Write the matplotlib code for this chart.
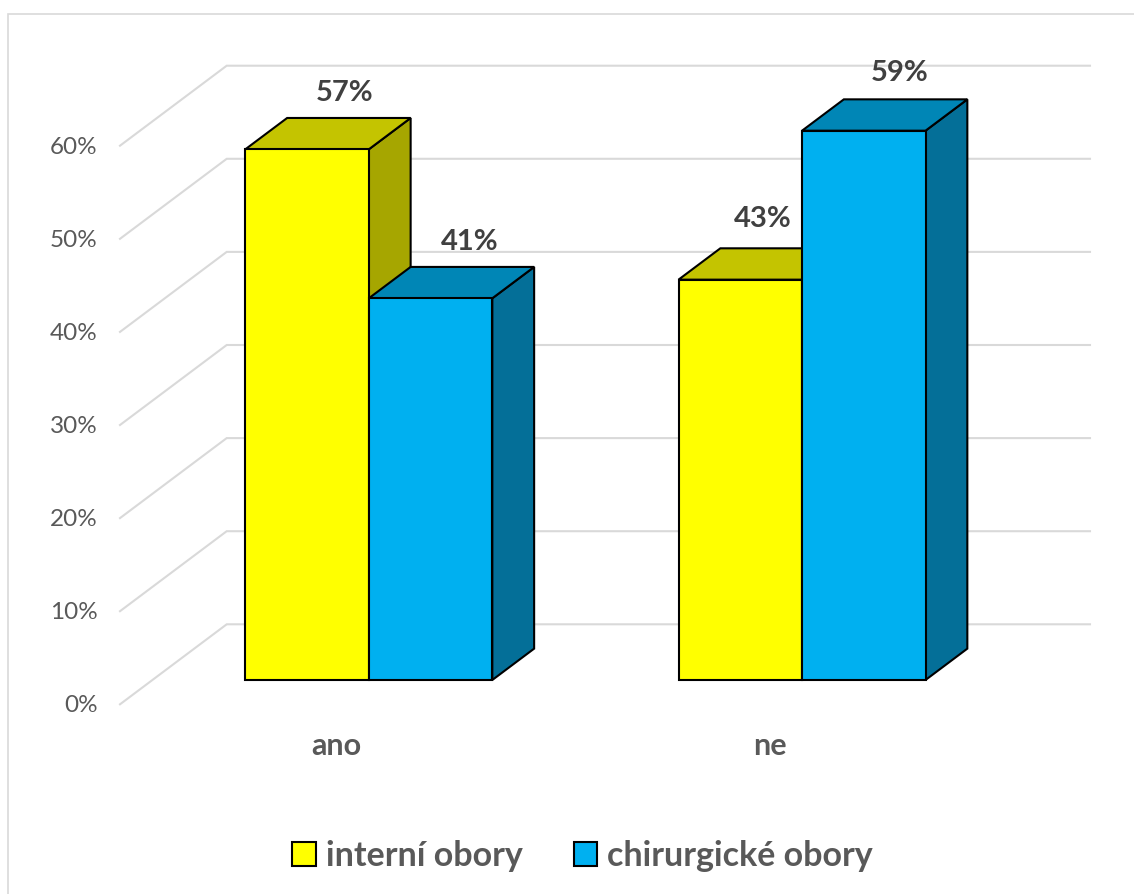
import matplotlib
matplotlib.use('Agg')
import matplotlib.pyplot as plt
from matplotlib.patches import Polygon, Patch, Rectangle

# ---- data ----
categories = ['ano', 'ne']
series_names = ['interní obory', 'chirurgické obory']
interni = [57, 43]
chirurgicke = [41, 59]
series_values = [interni, chirurgicke]
yticks = [0, 10, 20, 30, 40, 50, 60]
ytick_labels = ['0%', '10%', '20%', '30%', '40%', '50%', '60%']

front_colors = ['#FFFF00', '#00B0F0']
top_colors = ['#C4C400', '#0086B6']
side_colors = ['#A6A600', '#046F98']

# data-label nudges in points (series x category), layout only
label_offsets = [[(-3, 12), (-14, 15.5)],
                 [(-2, 12), (-4, 13)]]

FONT = 'Lato'
W, H = 1134, 894
fig = plt.figure(figsize=(W / 100, H / 100), dpi=100)
ax = fig.add_axes([0, 0, 1, 1])
ax.set_axis_off()

# layout (pixel geometry of the oblique projection)
px_per_x = 433.2
px_per_pct = 9.31
x0_px = 336.4
y0_px = 704.3
ax.set_xlim(-x0_px / px_per_x, (W - x0_px) / px_per_x)
ax.set_ylim((y0_px - H) / px_per_pct, y0_px / px_per_pct)

DX = 106.7 / px_per_x
DY = 80 / px_per_pct


def P(x, v, t):
    return (x + t * DX, v + t * DY)


# chart border
fig.patches.append(Rectangle((8 / W, -0.05), 1.1, 1 - 14 / H + 0.05,
                             transform=fig.transFigure, fill=False,
                             edgecolor='#d9d9d9', lw=1.2, zorder=0))

# wall gridlines and y tick labels
wall_left = (120 - x0_px) / px_per_x
wall_right = (1090 - x0_px) / px_per_x - DX
for t, lab in zip(yticks, ytick_labels):
    pts = [P(wall_left, t, 0), P(wall_left, t, 1), P(wall_right, t, 1)]
    ax.plot([p[0] for p in pts], [p[1] for p in pts], color='#d9d9d9',
            lw=1.5, solid_joinstyle='miter', zorder=1)
    ax.annotate(lab, xy=P(wall_left, t, 0), xytext=(-16, -1),
                textcoords='offset points', ha='right', va='center',
                fontsize=17.5, color='#595959', family=FONT)

# bars
w = 123.5 / px_per_x
t1 = 24.3 / 80
t2 = t1 + 0.392
for i, cat in enumerate(categories):
    for j, vals in enumerate(series_values):
        v = vals[i]
        xl = i - w + j * w
        xr = xl + w
        side = [P(xr, 0, t1), P(xr, 0, t2), P(xr, v, t2), P(xr, v, t1)]
        top = [P(xl, v, t1), P(xr, v, t1), P(xr, v, t2), P(xl, v, t2)]
        front = [P(xl, 0, t1), P(xr, 0, t1), P(xr, v, t1), P(xl, v, t1)]
        for poly, col in [(side, side_colors[j]), (top, top_colors[j]),
                          (front, front_colors[j])]:
            ax.add_patch(Polygon(poly, closed=True, facecolor=col,
                                 edgecolor='black', lw=1.5,
                                 joinstyle='miter', zorder=3))
        ax.annotate(f'{v}%', xy=P((xl + xr) / 2, v, t2),
                    xytext=label_offsets[j][i],
                    textcoords='offset points', ha='center', va='baseline',
                    fontsize=21, fontweight='bold', color='#404040',
                    family=FONT, zorder=5)
    ax.annotate(cat, xy=(i, 0), xytext=(0, -30), textcoords='offset points',
                ha='center', va='center', fontsize=22, fontweight='bold',
                color='#595959', family=FONT)

# legend
handles = [Patch(facecolor=front_colors[j], edgecolor='black', lw=1.5)
           for j in range(len(series_names))]
fig.legend(handles, series_names, loc='center',
           bbox_to_anchor=(582.5 / W, 1 - 856 / H), ncol=2, frameon=False,
           handlelength=0.68, handleheight=0.68, handletextpad=0.3,
           columnspacing=1.5,
           prop={'family': FONT, 'weight': 'bold', 'size': 24.5},
           labelcolor='#595959')

fig.savefig('out.png', dpi=100)
